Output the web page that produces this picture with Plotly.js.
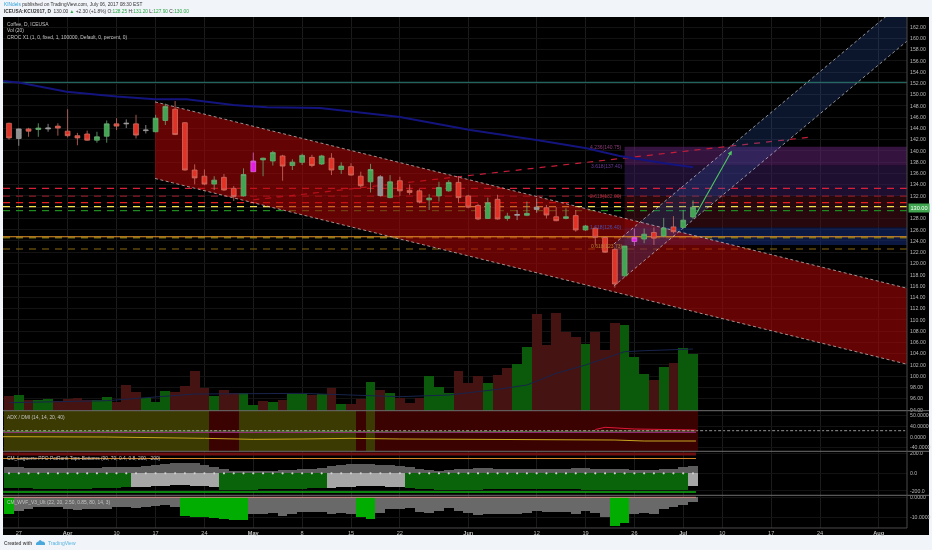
<!DOCTYPE html>
<html>
<head>
<meta charset="utf-8">
<script src="https://cdn.plot.ly/plotly-3.0.1.min.js"></script>
<style>html,body{margin:0;padding:0;background:#f1f4f9}#c{width:932px;height:550px;filter:blur(0.35px)}</style>
</head>
<body>
<div id="c"></div>
<script>
// ---- time axis ----
const tickIdx = [1,6,11,15,20,25,30,35,40,47,54,59,64,69,73,78,83,89];
const tickTxt = ["27","<b>Apr</b>","10","17","24","<b>May</b>","8","15","22","<b>Jun</b>","12","19","26","<b>Jul</b>","10","17","24","<b>Aug</b>"];
// ---- candles, one per trading day, index 0 = 24 Mar ----
const opens = [144.9,142.2,143.9,143.8,143.9,144.4,143.5,142.7,143.0,141.9,142.6,144.8,144.8,144.8,143.6,143.4,145.4,147.4,145.0,136.6,135.5,134.1,135.3,133.35,132.0,136.3,138.4,138.2,139.1,137.4,137.96,138.85,137.67,138.7,136.7,137.2,135.5,134.5,132.05,131.7,134.7,133.0,132.9,131.3,132.0,132.9,134.4,132.0,130.3,128.0,131.4,128.0,128.55,128.55,129.6,129.9,128.3,128.0,128.5,125.95,126.25,124.6,122.5,117.8,123.9,124.35,125.5,124.9,126.5,126.4,128.25];
const highs = [145.0,144.0,144.1,144.9,144.8,144.9,147.4,143.2,143.6,143.4,145.4,145.8,145.6,146.4,144.6,146.4,148.4,148.85,145.1,137.6,136.7,135.5,135.9,133.75,136.9,139.7,138.8,140.0,139.3,138.5,139.5,139.3,139.3,139.6,137.97,137.8,136.3,137.7,135.7,135.7,135.4,134.05,133.2,132.3,134.5,134.8,135.5,132.2,130.6,131.7,132.2,129.0,129.5,131.0,131.6,130.4,130.0,129.8,129.5,126.85,126.4,124.75,122.7,123.1,126.2,126.2,126.4,128.1,128.4,129.5,131.2];
const lows = [142.0,140.9,142.5,142.5,143.4,142.7,142.4,141.0,141.8,141.45,141.45,143.7,144.05,142.2,143.1,143.3,144.6,142.8,136.5,134.05,133.9,133.05,132.9,131.1,131.9,136.3,135.5,137.4,134.7,136.6,137.5,137.1,137.5,135.7,135.9,135.6,133.5,132.6,131.9,131.6,132.0,132.2,130.7,129.5,131.0,132.75,130.8,129.8,127.7,127.9,127.8,127.6,127.7,128.4,129.0,128.0,127.5,127.85,125.65,125.8,123.3,121.9,115.7,117.66,123.1,123.6,123.3,124.65,125.35,126.25,127.9];
const closes = [142.3,143.9,143.5,144.05,144.05,144.05,142.7,142.3,141.9,142.5,144.8,144.4,144.9,142.8,143.7,145.8,147.9,142.9,136.6,135.2,134.1,134.8,133.05,131.9,135.8,138.2,138.7,139.7,137.3,138.0,139.2,137.4,139.1,136.6,137.3,135.7,133.8,136.7,135.4,134.5,132.9,132.6,130.9,131.6,133.5,134.4,131.7,130.0,127.9,130.8,127.9,128.4,128.7,128.9,130.0,128.6,127.6,128.3,125.95,126.66,124.65,122.0,116.36,123.1,124.6,125.2,124.5,126.3,125.65,127.7,130.0];
const kinds = "RNRGNRRRRGGRNRNGGRRRRGRRGMGGRGGRGRGRRGNGRRRGGGRRRGRGNGNRRGRGRRRGMGRGRGG";
// ---- volume (relative bar heights) ----
const volume = [44,47,32,32,36,30,34,37,32,32,42,27,77,57,39,27,59,57,74,119,69,44,62,52,52,17,30,26,32,50,50,46,50,67,20,20,35,87,62,52,37,24,37,104,72,52,119,84,104,84,107,127,139,190,289,197,292,237,222,200,237,182,262,257,162,110,92,130,142,187,170];
const volumeUp = "RGRGGRRRRGGRRRGGGRRRRGRRGGRGRGGRGRGRRGRGRRRGGGRRRGRRGGRRRRRGRRRGGGRGRGG";
const volMaX = [0,10,19,30,35,40,45,48,50,53,56,59,61,63,65,70];
const volMa = [24,30,50,52,47,42,47,57,64,77,112,137,157,177,180,185];
// ---- levels ----
const levelsDash = [133.34,131.98,130.8,130.09,129.38,122.57];
const levelColors = ["#d8203a","#8c1c28","#e82020","#f4e04a","#1f8a1f","#8a6a10"];
const level125 = 124.76, level125b = 124.6, tealLevel = 152.18;
// ---- moving average ----
const maX = [-0.65,1.13,5.9,11.02,14.94,18.19,22.95,26.4,31.83,40,47.2,54,59.1,62.5,66.9,70];
const maY = [152.41,152.11,150.51,149.65,149.16,149.16,148.15,147.74,147.61,146,143.7,141.93,140.45,139.09,137.84,137.08];
// ---- channels ----
const redX = [14.94,91.9], redTop = [148.7,115.6], redBottom = [135.1,102.1];
const blueX = [61.9,91.9], blueTop = [123.46,167.0], blueBottom = [116.0,159.5];
// ---- fib bands and projection ----
const fibX = [63,91.9];
const fibBands = [[140.75,137.4],[137.4,132.0],[132.0,126.4],[126.4,123.3]];
const fibColors = ["rgba(95,35,115,0.55)","rgba(60,30,95,0.5)","rgba(75,15,25,0.5)","rgba(20,45,120,0.55)"];
const fibLineX = [25,82.3], fibLineY = [131.3,142.5];
const arrowX = [70.2,73.97], arrowY = [128.43,140.03];
// ---- ADX pane ----
const adxZone = "OOOOOOOOOOOOOOOOOOOOORRROOOOOOOOOOOOROR"+"RRRRRRRRRRRRRRRRRRRRRRRRRRRRRRRR";
const adxX = [-0.6,10,20,25,30,35,40,47,55,60,62,65,70.3];
const adxY = [0.33,0,-1.33,-2.33,-2,-1.33,-2,-2.33,-2,-2.33,-3,-4,-4];
const adxMagX = [-0.6,70.3], adxMagY = [4.67,4.67];
const adxGreenX = [-0.6,18,25,40,60,70.3], adxGreenY = [5.4,5.4,6,5.2,5.4,6];
const adxRedX = [60,61,64,67,70.3], adxRedY = [7.5,9.7,8,7.5,7];
const adxDotX = [-0.6,91.9], adxDotY = [6.3,6.3];
// ---- Laguerre pane ----
const ppoUp = [54,54,51,51,51,51,48,48,51,51,54,54,54,54,66,75,84,90,93,90,75,60,36,24,18,18,21,24,30,33,36,39,51,66,75,81,84,81,78,72,66,54,42,30,24,27,36,42,45,45,42,39,36,36,36,36,39,42,48,51,42,36,36,36,30,27,30,36,42,54,69];
const ppoDown = [-138,-138,-138,-141,-141,-141,-141,-141,-141,-138,-138,-135,-129,-129,-126,-120,-111,-105,-105,-111,-120,-129,-150,-150,-150,-150,-147,-144,-144,-144,-141,-138,-138,-135,-129,-126,-120,-120,-120,-126,-129,-138,-144,-147,-150,-150,-150,-150,-150,-147,-144,-141,-141,-141,-141,-144,-144,-144,-147,-150,-156,-156,-156,-156,-156,-156,-153,-153,-150,-150,-120];
const ppoZone = "GGGGGGGGGGGGGLLLLLLLLLGGGGGGGGGGGLLLLLLLLGGGGGGGGGGGGGGGGGGGGGGGGGGGGGL";
const ppoRed = 175, ppoOrange = 135, ppoGreen = -169;
// ---- WVF pane ----
const wvf = [-8.2,-6.5,-5.7,-4.6,-4.9,-4.9,-5.7,-6.2,-5.9,-5.7,-5.9,-4.6,-4.6,-5.4,-4.9,-4.2,-3.7,-4.9,-9,-9.5,-9.8,-10.3,-10.6,-11.1,-11.4,-8.2,-8.2,-7.8,-9,-8.2,-7,-7.4,-7.4,-8.2,-7.8,-8.2,-9.8,-10.5,-7.8,-5.9,-5.7,-5.4,-7,-7.5,-6.5,-5.4,-6.5,-7.5,-8.6,-8.2,-8.2,-8.2,-8.2,-7.5,-6.5,-7,-7,-7,-8.3,-6.7,-7.8,-9.5,-14,-12.8,-8.2,-7.8,-8.2,-5.9,-4.6,-3.7,-2.1];
const wvfZone = "GLLLLLLLLLLLLLLLLLGGGGGGGLLLLLLLLLLLGGLLLLLLLLLLLLLLLLLLLLLLLLGGLLLLLLL";
// ---- tick labels ----
const priceTicks = [94,96,98,100,102,104,106,108,110,112,114,116,118,120,122,124,126,128,130,132,134,136,138,140,142,144,146,148,150,152,154,156,158,160,162];
const adxTicks = [22,11,0,-10.5], adxLabels = ["50.0000","40.0000","0.0000","-40.0000"];
const ppoTicks = [180,0,-160], ppoLabels = ["200.0","0.0","-200.0"];
const wvfTicks = [0,-10], wvfLabels = ["0.0000","-10.0000"];
// ---- text ----
const studyLabels = [
 ["Coffee, D, ICEUSA",6,24.5],["Vol (20)",6,30.5],["CROC X1 (1, 0, fixed, 1, 100000, Default, 0, percent, 0)",6,37],
 ["ADX / DMI (14, 14, 20, 40)",6,417.5],["CM_Laguerre PPO PctRank Tops-Bottoms (90, 70, 0.4, 0.8, 200, -200)",6,458],
 ["CM_WVF_V3_Ult (22, 20, 2.50, 0.85, 80, 14, 3)",6,502]];
const fibLabels = [["4.236(140.75)",622,146.7,"#8c3a7a"],["3.618(137.40)",623,165.7,"#6a3aa0"],["2.618(132.00)",622,196,"#a03040"],["1.618(126.40)",622,226.7,"#4a50b0"],["0.618(123.73)",623,246,"#b08030"]];

const P = (x,y,c,w,d,ax)=>({type:'scatter',mode:'lines',x:x,y:y,xaxis:'x',yaxis:ax||'y',hoverinfo:'skip',showlegend:false,line:{color:c,width:w,dash:d||'solid'}});
const idx = opens.map((_,i)=>i);
const xEnds = [-0.614,91.9];
const F = "'Liberation Sans',Arial,sans-serif";
let data = [];
// fib bands
fibBands.forEach((b,i)=>data.push({type:'scatter',mode:'none',x:[fibX[0],fibX[1],fibX[1],fibX[0]],y:[b[0],b[0],b[1],b[1]],fill:'toself',fillcolor:fibColors[i],hoverinfo:'skip',showlegend:false}));
// levels under the channels
levelsDash.forEach((v,i)=>data.push(P(xEnds,[v,v],levelColors[i],1.2,'7px,6px')));
data.push(P(xEnds,[level125b,level125b],'#6f6a10',1.6,'7px,6px'));
data.push(P(fibLineX,fibLineY,'#c41e3a',1.2,'6px,6px'));
// red channel
data.push({type:'scatter',mode:'none',x:[redX[0],redX[1],redX[1],redX[0]],y:[redTop[0],redTop[1],redBottom[1],redBottom[0]],fill:'toself',fillcolor:'rgba(178,6,6,0.56)',hoverinfo:'skip',showlegend:false});
// blue channel
data.push({type:'scatter',mode:'none',x:[blueX[0],blueX[1],blueX[1],blueX[0]],y:[blueTop[0],blueTop[1],blueBottom[1],blueBottom[0]],fill:'toself',fillcolor:'rgba(45,85,170,0.25)',hoverinfo:'skip',showlegend:false});
data.push(P(xEnds,[level125,level125],'#e8962a',1.1));
data.push(P(xEnds,[tealLevel,tealLevel],'#2a7d72',1));
data.push(P(maX,maY,'#14147e',2));
// channel edges
const edge = ['rgba(225,225,225,0.8)',0.8,'3px,2.5px'];
data.push(P(redX,redTop,...edge),P(redX,redBottom,...edge),P(blueX,blueTop,...edge),P(blueX,blueBottom,...edge));
// candles
const look = {R:['#e23226','#cf6f62'],G:['#41a651','#68ab74'],N:['#8f8f8f','#a0a0a0'],M:['#e81be8','#d468d4']};
Object.keys(look).forEach(k=>{
  const s = idx.filter(i=>kinds[i]===k);
  const side = {fillcolor:look[k][0],line:{color:look[k][1],width:0.8}};
  data.push({type:'candlestick',x:s,open:s.map(i=>opens[i]),high:s.map(i=>highs[i]),low:s.map(i=>lows[i]),close:s.map(i=>closes[i]),
    xaxis:'x',yaxis:'y6',increasing:side,decreasing:side,whiskerwidth:0,hoverinfo:'skip',showlegend:false});
});
// volume
data.push({type:'bar',x:idx,y:volume,yaxis:'y2',xaxis:'x',width:1,marker:{color:idx.map(i=>volumeUp[i]==='G'?'#0b5a0b':'#461313'),line:{width:0}},hoverinfo:'skip',showlegend:false});
data.push(P(volMaX,volMa,'#18244c',1,null,'y2'));
// ADX pane
data.push({type:'bar',x:idx,y:idx.map(()=>40.6),base:-14.3,yaxis:'y3',xaxis:'x',width:1,marker:{color:idx.map(i=>adxZone[i]==='O'?'#3a3a02':'#3b0202'),line:{width:0}},hoverinfo:'skip',showlegend:false});
data.push(P(adxX,adxY,'#c8a620',1,null,'y3'));
data.push(P(adxMagX,adxMagY,'#a03088',1,null,'y3'));
data.push(P(adxGreenX,adxGreenY,'#4a8a40',0.8,null,'y3'));
data.push(P(adxRedX,adxRedY,'#e01838',1,null,'y3'));
data.push(P(adxDotX,adxDotY,'#bdbdbd',0.8,'2px,2px,3px,2px','y3'));
// Laguerre pane
data.push({type:'bar',x:idx,y:ppoUp,yaxis:'y4',xaxis:'x',width:1,marker:{color:'#5c5c5c',line:{width:0}},hoverinfo:'skip',showlegend:false});
data.push({type:'bar',x:idx,y:ppoDown,yaxis:'y4',xaxis:'x',width:1,marker:{color:idx.map(i=>ppoZone[i]==='L'?'#a6a6a6':'#0a640a'),line:{width:0}},hoverinfo:'skip',showlegend:false});
data.push({type:'scatter',mode:'markers',x:idx,y:idx.map(()=>0),yaxis:'y4',xaxis:'x',marker:{size:2.2,color:'#cfcfcf'},hoverinfo:'skip',showlegend:false});
const ppoEnd = [-0.6,70.3];
data.push(P(ppoEnd,[ppoRed,ppoRed],'#6e1010',3,null,'y4'));
data.push(P(ppoEnd,[ppoOrange,ppoOrange],'#d8882a',1.1,null,'y4'));
data.push(P(ppoEnd,[ppoGreen,ppoGreen],'#12b012',1.5,null,'y4'));
// WVF pane
data.push({type:'bar',x:idx,y:wvf,yaxis:'y5',xaxis:'x',width:1,marker:{color:idx.map(i=>wvfZone[i]==='G'?'#00ad00':'#696969'),line:{width:0}},hoverinfo:'skip',showlegend:false});
data.push(P(ppoEnd,[0,0],'#d88a86',1,null,'y5'));

const px = x=>(x-3)/904, py = y=>1-(y-17)/511;
const dom = (a,b)=>[1-(b-17)/511,1-(a-17)/511];
const txt = (t,x,y,c,sz,anchor)=>({text:t,xref:'paper',yref:'paper',x:px(x),y:py(y),xanchor:anchor||'left',yanchor:'middle',showarrow:false,font:{family:F,size:sz,color:c},align:'left',borderpad:0});
let ann = [];
ann.push(txt('<span style="color:#2a9fd8">KINdels</span> published on TradingView.com, July 06, 2017 08:30 EST',3,4.6,'#333',4.8));
ann.push(txt('<b>ICEUSA:KCU2017, D</b>  130.00 <span style="color:#27a844">▲</span> +2.30 (+1.8%) O:<span style="color:#27a844">128.25</span> H:<span style="color:#27a844">131.20</span> L:<span style="color:#27a844">127.90</span> C:<span style="color:#27a844">130.00</span>',3,11.6,'#333',4.8));
studyLabels.forEach(a=>ann.push(txt(a[0],a[1],a[2],'#c4c4c4',4.9)));
fibLabels.forEach(a=>ann.push(txt(a[0],a[1],a[2],a[3],5,'right')));
ann.push(Object.assign(txt('130.00',908.5,207.5,'#ffffff',5.6),{bgcolor:'#3fa64f',width:20,height:8,align:'center'}));
ann.push(txt('<b>Created with</b>',3,543,'#555',4.7));
ann.push(txt('TradingView',47,543,'#58b4e0',5));
ann.push({x:arrowX[1],y:arrowY[1],ax:arrowX[0],ay:arrowY[0],xref:'x',yref:'y',axref:'x',ayref:'y',showarrow:true,arrowhead:2,arrowsize:0.8,arrowwidth:1.1,arrowcolor:'#4fc45f',text:''});

const rect=(x0,y0,x1,y1,fill)=>({type:'rect',xref:'paper',yref:'paper',x0:px(x0),x1:px(x1),y0:py(y0),y1:py(y1),fillcolor:fill,line:{width:0},layer:'below'});
const sep=(x0,y0,x1,y1,c,w)=>({type:'line',xref:'paper',yref:'paper',x0:px(x0),x1:px(x1),y0:py(y0),y1:py(y1),line:{color:c,width:w||1},layer:'above'});
const shapes=[rect(3,17,929,535,'#000'),
  sep(3,410.7,929,410.7,'#6f6f6f'),sep(3,451.3,929,451.3,'#6f6f6f'),sep(3,495.3,929,495.3,'#6f6f6f'),
  sep(3,528,907,528,'#4a4a4a'),sep(907,17,907,528,'#4a4a4a'),
  {type:'path',xref:'paper',yref:'paper',path:`M ${px(36)} ${py(545)} L ${px(45)} ${py(545)} Q ${px(45.5)} ${py(541)} ${px(42)} ${py(541.5)} Q ${px(40)} ${py(538.5)} ${px(38.5)} ${py(541.5)} Q ${px(35.5)} ${py(542)} ${px(36)} ${py(545)} Z`,fillcolor:'#4aa8dc',line:{width:0},layer:'above'}];
const yBase = {side:'right',anchor:'x',gridcolor:'#131313',gridwidth:1,zeroline:false,showline:false,ticks:'',tickfont:{family:F,size:5.2,color:'#b8b8b8'},fixedrange:true,ticklabelstandoff:2};
const mainRange=[93.85,163.78];
const layout = {
  width:932,height:550,margin:{l:3,r:25,t:17,b:22},paper_bgcolor:'#f1f4f9',plot_bgcolor:'#000',showlegend:false,barmode:'relative',boxmode:'overlay',bargap:0,
  xaxis:{domain:[0,1],anchor:'y5',range:xEnds,tickmode:'array',tickvals:tickIdx,ticktext:tickTxt,gridcolor:'#1b1b1b',gridwidth:1,zeroline:false,showline:false,ticks:'',ticklen:0,tickangle:0,tickfont:{family:F,size:5.6,color:'#c0c0c0'},rangeslider:{visible:false},fixedrange:true},
  yaxis:Object.assign({},yBase,{domain:dom(17,410.7),range:mainRange,tickmode:'array',tickvals:priceTicks,ticktext:priceTicks.map(v=>v.toFixed(2))}),
  yaxis2:{overlaying:'y',domain:dom(17,410.7),range:[0,1181],visible:false,anchor:'x',side:'right',fixedrange:true},
  yaxis6:{overlaying:'y',domain:dom(17,410.7),range:mainRange,visible:false,anchor:'x',side:'right',fixedrange:true},
  yaxis3:Object.assign({},yBase,{domain:dom(410.7,451.3),range:[-14.3,26.3],tickmode:'array',tickvals:adxTicks,ticktext:adxLabels}),
  yaxis4:Object.assign({},yBase,{domain:dom(451.3,495.3),range:[-200,200],tickmode:'array',tickvals:ppoTicks,ticktext:ppoLabels}),
  yaxis5:Object.assign({},yBase,{domain:dom(495.3,528),range:[-15.1,0.98],tickmode:'array',tickvals:wvfTicks,ticktext:wvfLabels}),
  annotations:ann,shapes:shapes
};
Plotly.newPlot('c',data,layout,{displayModeBar:false,staticPlot:true});
</script>
</body>
</html>
